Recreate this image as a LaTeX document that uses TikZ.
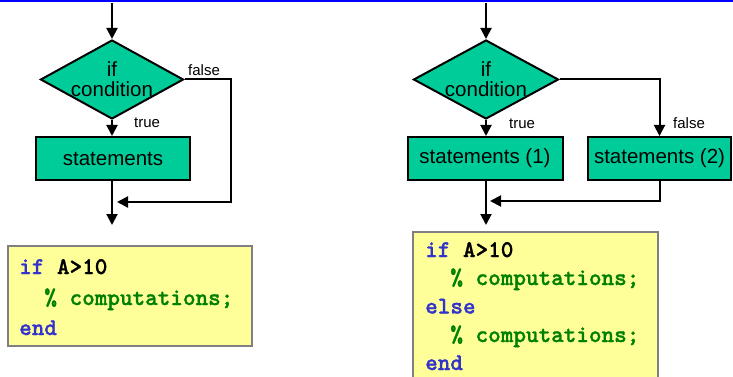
\documentclass[tikz,border=0pt]{standalone}
\usepackage{fontspec}
\setmainfont{Liberation Sans}
\newfontfamily\codefont{lmmonolt10-bold.otf}[FakeBold=1.2]
\usetikzlibrary{shapes.geometric,arrows.meta}

\definecolor{flowfill}{RGB}{0,204,153}
\definecolor{codebg}{RGB}{255,255,153}
\definecolor{codeframe}{RGB}{128,128,128}
\definecolor{kwblue}{RGB}{51,51,204}
\definecolor{cmgreen}{RGB}{0,128,0}
\definecolor{rulecol}{RGB}{0,0,255}

\tikzset{
  flow/.style={line width=2pt, -{Triangle[width=11pt,length=11pt]}},
  decision/.style={shape=diamond, draw, line width=2pt, fill=flowfill,
    inner sep=0pt, minimum width=143pt, minimum height=79pt},
  decisiontext/.style={inner sep=0pt, align=center,
    font=\fontsize{20.5}{20}\selectfont},
  stmt/.style={draw, line width=2pt, fill=flowfill, inner sep=0pt,
    minimum height=43pt, font=\fontsize{20.5}{24}\selectfont},
  branchlabel/.style={anchor=base west, inner sep=0pt,
    font=\fontsize{15}{18}\selectfont},
  codebox/.style={draw=codeframe, line width=2pt, fill=codebg, inner sep=0pt},
  codeline/.style={anchor=base west, inner sep=0pt,
    font=\codefont\bfseries\fontsize{24}{28}\selectfont},
}

\newcommand{\kw}[1]{\textcolor{kwblue}{#1}}
\newcommand{\cm}[1]{\textcolor{cmgreen}{#1}}

\begin{document}
\begin{tikzpicture}[x=1pt,y=-1pt]
  \useasboundingbox (0,0) rectangle (733,377);
  \clip (0,0) rectangle (733,377);

  % top rule
  \fill[rulecol] (0,0) rectangle (733,2.3);

  % ---------- if ... end ----------
  \coordinate (in1) at (112,3);
  \node[decision] (c1) at (112,79.5) {};
  \node[decisiontext] (c1t) at (c1.center) {if\\condition};
  \node[stmt, minimum width=154pt] (s1) at (113,158.5) {statements};
  \coordinate (j1) at (112,202);
  \coordinate (out1) at (112,225);

  \draw[flow] (in1) -- (c1.north);
  \draw[flow] (c1.south) -- (c1.south |- s1.north);
  \draw[flow] (c1.east) -- (231,79.5) |- ([xshift=5pt]j1);
  \draw[flow] (c1.south |- s1.south) -- (out1);

  \node[branchlabel] (f1) at (188,76) {false};
  \node[branchlabel] (tr1) at (134,128) {true};

  \node[codebox, minimum width=244pt, minimum height=100pt] (cb1) at (130,296) {};
  \node[codeline] (l11) at (19,274) {\kw{if} A>10};
  \node[codeline] (l12) at (19,305) {\hphantom{xx}\cm{\% computations;}};
  \node[codeline] (l13) at (19,335) {\kw{end}};

  % ---------- if ... else ... end ----------
  \coordinate (in2) at (486,3);
  \node[decision, minimum width=145pt] (c2) at (486,79.5) {};
  \node[decisiontext] (c2t) at (c2.center) {if\\condition};
  \node[stmt, minimum width=155pt] (s21) at (485,158.5) {statements (1)};
  \node[stmt, minimum width=143pt] (s22) at (659.5,158.5) {statements (2)};
  \coordinate (j2) at (486,201);
  \coordinate (out2) at (486,225);

  \draw[flow] (in2) -- (c2.north);
  \draw[flow] (c2.south) -- (c2.south |- s21.north);
  \draw[flow] (c2.east) -| (s22.north);
  \draw[flow] (s22.south) |- ([xshift=4pt]j2);
  \draw[flow] (c2.south |- s21.south) -- (out2);

  \node[branchlabel] (f2) at (673,128.5) {false};
  \node[branchlabel] (tr2) at (509,128.5) {true};

  \node[codebox, minimum width=245pt, minimum height=160pt] (cb2) at (535.5,312) {};
  \node[codeline] (l21) at (425,257) {\kw{if} A>10};
  \node[codeline] (l22) at (425,285) {\hphantom{xx}\cm{\% computations;}};
  \node[codeline] (l23) at (425,313.5) {\kw{else}};
  \node[codeline] (l24) at (425,342) {\hphantom{xx}\cm{\% computations;}};
  \node[codeline] (l25) at (425,370) {\kw{end}};
\end{tikzpicture}
\end{document}
